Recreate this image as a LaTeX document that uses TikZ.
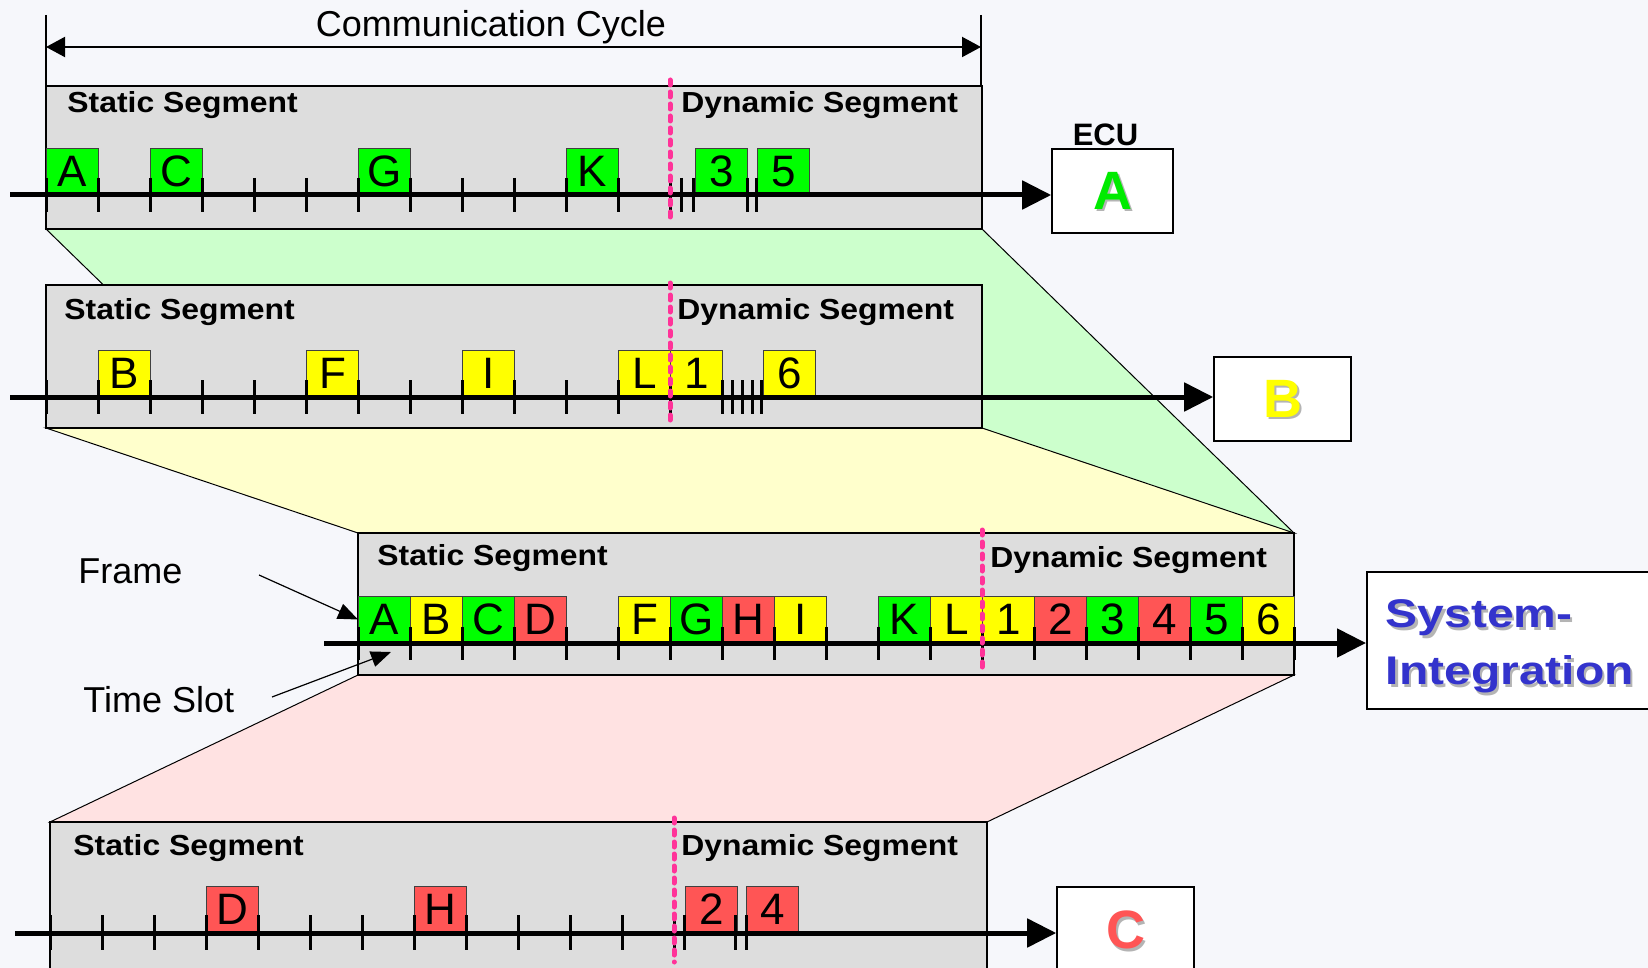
\documentclass[tikz,border=0pt]{standalone}
\usepackage{fontspec}
\setmainfont{Liberation Sans}
\newfontfamily\segfont[FakeStretch=1.1]{Liberation Sans}
\newfontfamily\sifont[FakeStretch=1.2]{Liberation Sans}
\usetikzlibrary{arrows.meta,positioning}

\definecolor{bgcol}{RGB}{246,247,251}
\definecolor{seggray}{RGB}{221,221,221}
\definecolor{frgreen}{RGB}{0,255,0}
\definecolor{fryellow}{RGB}{255,255,0}
\definecolor{frred}{RGB}{255,85,85}
\definecolor{trgreen}{RGB}{204,255,204}
\definecolor{tryellow}{RGB}{255,255,204}
\definecolor{trpink}{RGB}{255,226,226}
\definecolor{seppink}{RGB}{255,51,153}
\definecolor{siblue}{RGB}{51,51,204}
\definecolor{ecugreen}{RGB}{0,235,0}
\definecolor{shgray}{RGB}{180,180,180}

% text with a small grey drop shadow
\newcommand{\shtxt}[2]{\makebox[0pt][l]{\kern1.2pt\raisebox{-1.2pt}[0pt][0pt]{\textcolor{shgray}{#2}}}\textcolor{#1}{#2}}

\begin{document}
\begin{tikzpicture}
[x=0.5pt, y=-0.5pt,
panel/.style={draw, line width=0.8pt, fill=seggray},
funnel/.style={draw, line width=0.5pt},
frm/.style={draw=black!75, line width=0.5pt, minimum width=26pt, minimum height=23pt, inner sep=0pt, anchor=south west, font=\fontsize{22}{22}\selectfont},
seglbl/.style={anchor=base west, inner sep=0pt, font=\segfont\fontsize{14.5}{17}\selectfont\bfseries},
plain/.style={inner sep=0pt, font=\fontsize{18}{22}\selectfont},
tick/.style={line width=1.5pt},
timeline/.style={line width=2.5pt, -{Triangle[length=14.5pt,width=14pt]}},
dynsep/.style={draw=seppink, line width=2.5pt, line cap=round, dash pattern=on 2.5pt off 3.5pt},
ecu/.style={draw, line width=0.8pt, fill=white, inner sep=0pt, font=\fontsize{27}{27}\selectfont\bfseries},
ecutitle/.style={inner sep=0pt, font=\fontsize{15.5}{18}\selectfont\bfseries},
bound/.style={line width=0.8pt},
cycarrow/.style={line width=1pt, {Triangle[length=9.5pt,width=10pt]}-{Triangle[length=9.5pt,width=10pt]}},
callout/.style={line width=0.6pt, -{Triangle[length=10pt,width=8pt]}}
]
  \useasboundingbox[fill=bgcol] (0,0) rectangle (1648,968);

  % funnels between the cycles
  \filldraw[funnel, fill=trgreen] (46,229) -- (982,229) -- (1294,533) -- (358,533) -- cycle;
  \filldraw[funnel, fill=tryellow] (46,428) -- (982,428) -- (1294,533) -- (358,533) -- cycle;
  \filldraw[funnel, fill=trpink] (358,675) -- (1294,675) -- (987,822) -- (50,822) -- cycle;

  % communication cycle
  \draw[bound] (46,15) -- (46,86);
  \draw[bound] (981,15) -- (981,86);
  \coordinate (ccl) at (46,47);
  \coordinate (ccr) at (981,47);
  \draw[cycarrow] (ccl) -- (ccr);
  \node[plain, anchor=base] (cclbl) at (491,37) {Communication Cycle};

  % ECU A
  \draw[panel] (46,86) rectangle (982,229);
  \node[seglbl] (aStat) at (67,113) {Static Segment};
  \node[seglbl] (aDyn) at (681,113) {Dynamic Segment};
  \foreach \s/\t in {0/A,2/C,6/G,10/K}
    \node[frm, fill=frgreen] (a\t) at ({46+52*\s},195) {\t};
  \node[frm, fill=frgreen] (a3) at (695,195) {3};
  \node[frm, fill=frgreen] (a5) at (757,195) {5};
  \node[ecu, minimum width=60.5pt, minimum height=42pt] (ecuA) at (1112.5,191) {\shtxt{ecugreen}{A}};
  \node[ecutitle, above=1pt of ecuA, xshift=-3.5pt] (ecut) {ECU};
  \coordinate (tA) at (10,195);
  \draw[timeline] (tA) -- (tA -| ecuA.west);
  \foreach \k in {0,...,12} \draw[tick] ({46+52*\k},178) -- ++(0,34);
  \foreach \x in {681,693,747,756} \draw[tick] (\x,178) -- ++(0,34);
  \draw[dynsep] (670,80) -- (670,223);

  % ECU B
  \draw[panel] (46,285) rectangle (982,428);
  \node[seglbl] (bStat) at (64,319) {Static Segment};
  \node[seglbl] (bDyn) at (677,319) {Dynamic Segment};
  \foreach \s/\t in {1/B,5/F,8/I,11/L}
    \node[frm, fill=fryellow] (b\t) at ({46+52*\s},397) {\t};
  \node[frm, fill=fryellow] (b1) at (670,397) {1};
  \node[frm, fill=fryellow] (b6) at (763,397) {6};
  \node[ecu, minimum width=68.5pt, minimum height=42pt] (ecuB) at (1282.5,399) {\shtxt{fryellow}{B}};
  \coordinate (tB) at (10,397);
  \draw[timeline] (tB) -- (tB -| ecuB.west);
  \foreach \k in {0,...,12} \draw[tick] ({46+52*\k},380) -- ++(0,34);
  \foreach \x in {722,732,742,752,761} \draw[tick] (\x,380) -- ++(0,34);
  \draw[dynsep] (670,283) -- (670,425);

  % system integration
  \draw[panel] (358,533) rectangle (1294,675);
  \node[seglbl] (sStat) at (377,565) {Static Segment};
  \node[seglbl] (sDyn) at (990,567) {Dynamic Segment};
  \foreach \s/\t/\c in {0/A/frgreen,1/B/fryellow,2/C/frgreen,3/D/frred,5/F/fryellow,6/G/frgreen,7/H/frred,8/I/fryellow,10/K/frgreen,11/L/fryellow,12/1/fryellow,13/2/frred,14/3/frgreen,15/4/frred,16/5/frgreen,17/6/fryellow}
    \node[frm, fill=\c] (s\s) at ({358+52*\s},643) {\t};
  \node[ecu, anchor=west, minimum height=68.5pt, text width=131pt, inner xsep=9.5pt, align=left, font=\sifont\fontsize{20}{28.5}\selectfont\bfseries] (si) at (1366,640.5) {\rule{0pt}{20pt}\shtxt{siblue}{System-}\\\shtxt{siblue}{Integration}};
  \coordinate (tS) at (324,643);
  \draw[timeline] (tS) -- (tS -| si.west);
  \foreach \k in {0,...,18} \draw[tick] ({358+52*\k},627) -- ++(0,33);
  \draw[dynsep] (982,530) -- (982,672);

  % frame and time slot
  \node[plain, anchor=base west] (frmlbl) at (78,583) {Frame};
  \node[plain, anchor=base west] (slotlbl) at (83,712) {Time Slot};
  \coordinate (frmtail) at (259,575);
  \coordinate (slottail) at (272,697);
  \coordinate (slotA) at (391,652);
  \draw[callout] (frmtail) -- (s0.west);
  \draw[callout] (slottail) -- (slotA);

  % ECU C
  \draw[panel] (50,822) rectangle (987,990);
  \node[seglbl] (cStat) at (73,855) {Static Segment};
  \node[seglbl] (cDyn) at (681,855) {Dynamic Segment};
  \foreach \s/\t in {3/D,7/H}
    \node[frm, fill=frred] (c\t) at ({50+52*\s},933) {\t};
  \node[frm, fill=frred] (c2) at (685,933) {2};
  \node[frm, fill=frred] (c4) at (746,933) {4};
  \node[ecu, minimum width=68.5pt, minimum height=43pt] (ecuC) at (1125.5,930) {\shtxt{frred}{C}};
  \coordinate (tC) at (15,933);
  \draw[timeline] (tC) -- (tC -| ecuC.west);
  \foreach \k in {0,...,12} \draw[tick] ({50+52*\k},915) -- ++(0,35);
  \foreach \x in {684,735,746} \draw[tick] (\x,915) -- ++(0,35);
  \draw[dynsep] (674,818) -- (674,962);
\end{tikzpicture}
\end{document}
